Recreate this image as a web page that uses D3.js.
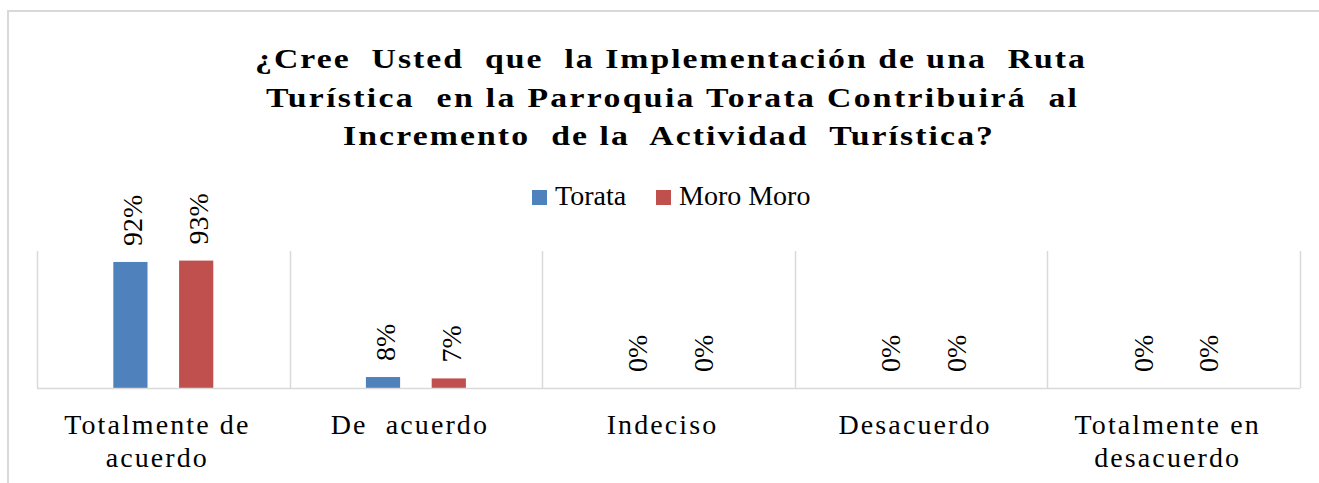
<!DOCTYPE html>
<html>
<head>
<meta charset="utf-8">
<script src="https://cdn.jsdelivr.net/npm/d3@7"></script>
<style>
  html, body { margin: 0; padding: 0; background: #fff; }
  svg { display: block; }
  text { font-family: "Liberation Serif", "Times New Roman", "DejaVu Serif", serif; fill: #000; }
</style>
</head>
<body>
<svg id="chart" width="1319" height="483"></svg>
<script>
// ---- Data ----
const categories = [
  ["Totalmente de", "acuerdo"],
  ["De  acuerdo"],
  ["Indeciso"],
  ["Desacuerdo"],
  ["Totalmente en", "desacuerdo"]
];
const seriesNames = ["Torata", "Moro Moro"];
const torata = [0.92, 0.08, 0, 0, 0];
const moroMoro = [0.93, 0.07, 0, 0, 0];
const seriesColors = ["#4F81BD", "#C0504D"];
const titleLines = [
  "¿Cree  Usted  que  la Implementación de una  Ruta",
  "Turística  en la Parroquia Torata Contribuirá  al",
  "Incremento  de la  Actividad  Turística?"
];

// ---- Layout ----
const svg = d3.select("#chart");
const W = 1319, H = 483;
const plot = { left: 37, right: 1300, top: 251, bottom: 388 };
const grid = "#D9D9D9";

// Chart frame (outer border)
svg.append("path")
  .attr("d", `M8,${H} L8,11 L${W},11`)
  .attr("fill", "none")
  .attr("stroke", grid)
  .attr("stroke-width", 2);

// Title (horizontally widened, like the reference)
const titleWidths = [830, 811, 650];
const titleCenters = [670, 671.5, 668];
const titleBase = [68, 106.5, 145];
const sx = 1.25;
const tg = svg.append("g");
titleLines.forEach((ln, i) => {
  tg.append("g")
    .attr("transform", `translate(${titleCenters[i]},${titleBase[i]}) scale(${sx},1)`)
    .append("text")
    .attr("x", 0).attr("y", 0)
    .attr("text-anchor", "middle")
    .attr("font-size", 27)
    .attr("font-weight", "bold")
    .attr("textLength", titleWidths[i] / sx)
    .attr("lengthAdjust", "spacing")
    .style("white-space", "pre")
    .text(ln);
});

// Scales
const keys = categories.map((c, i) => i);
const x0 = d3.scaleBand().domain(keys).range([plot.left, plot.right]).padding(0);
const x1 = d3.scaleBand().domain(seriesNames).range([0, x0.bandwidth()])
  .paddingInner(0.48).paddingOuter(1.16);
const y = d3.scaleLinear().domain([0, 1]).range([plot.bottom, plot.top]);

// Vertical category gridlines
const bounds = keys.map(k => x0(k)).concat([plot.right]);
svg.append("g").selectAll("line")
  .data(bounds)
  .join("line")
  .attr("x1", d => Math.round(d) + 0.5)
  .attr("x2", d => Math.round(d) + 0.5)
  .attr("y1", plot.top)
  .attr("y2", plot.bottom)
  .attr("stroke", grid)
  .attr("stroke-width", 1.5);

// Bars
const seriesData = [torata, moroMoro];
const rows = [];
seriesNames.forEach((s, si) => {
  seriesData[si].forEach((v, ci) => rows.push({ s, si, ci, v }));
});

svg.append("g").selectAll("rect")
  .data(rows)
  .join("rect")
  .attr("x", d => x0(d.ci) + x1(d.s))
  .attr("width", x1.bandwidth())
  .attr("y", d => y(d.v))
  .attr("height", d => y(0) - y(d.v))
  .attr("fill", d => seriesColors[d.si]);

// Baseline axis
svg.append("line")
  .attr("x1", plot.left).attr("x2", plot.right)
  .attr("y1", plot.bottom + 0.5).attr("y2", plot.bottom + 0.5)
  .attr("stroke", grid).attr("stroke-width", 1.5);

// Data labels (rotated)
const fmt = d3.format(".0%");
svg.append("g").selectAll("text")
  .data(rows)
  .join("text")
  .attr("transform", d => {
    const cx = x0(d.ci) + x1(d.s) + x1.bandwidth() / 2;
    const cy = y(d.v) - 16;
    return `translate(${cx},${cy}) rotate(-90)`;
  })
  .attr("dy", "0.42em")
  .attr("font-size", 28)
  .text(d => fmt(d.v));

// Category labels
const catG = svg.append("g");
categories.forEach((lines, ci) => {
  const cx = x0(ci) + x0.bandwidth() / 2;
  lines.forEach((ln, li) => {
    catG.append("text")
      .attr("x", cx - 6)
      .attr("y", 434 + li * 33)
      .attr("text-anchor", "middle")
      .attr("font-size", 28)
      .attr("letter-spacing", 2.1)
      .style("white-space", "pre")
      .text(ln);
  });
});

// Legend
const legendItems = [
  { name: seriesNames[0], color: seriesColors[0], x: 532 },
  { name: seriesNames[1], color: seriesColors[1], x: 656 }
];
const lg = svg.append("g");
legendItems.forEach(it => {
  lg.append("rect")
    .attr("x", it.x).attr("y", 190)
    .attr("width", 15).attr("height", 15)
    .attr("fill", it.color);
  lg.append("text")
    .attr("x", it.x + 23).attr("y", 205)
    .attr("font-size", 28)
    .text(it.name);
});
</script>
</body>
</html>
